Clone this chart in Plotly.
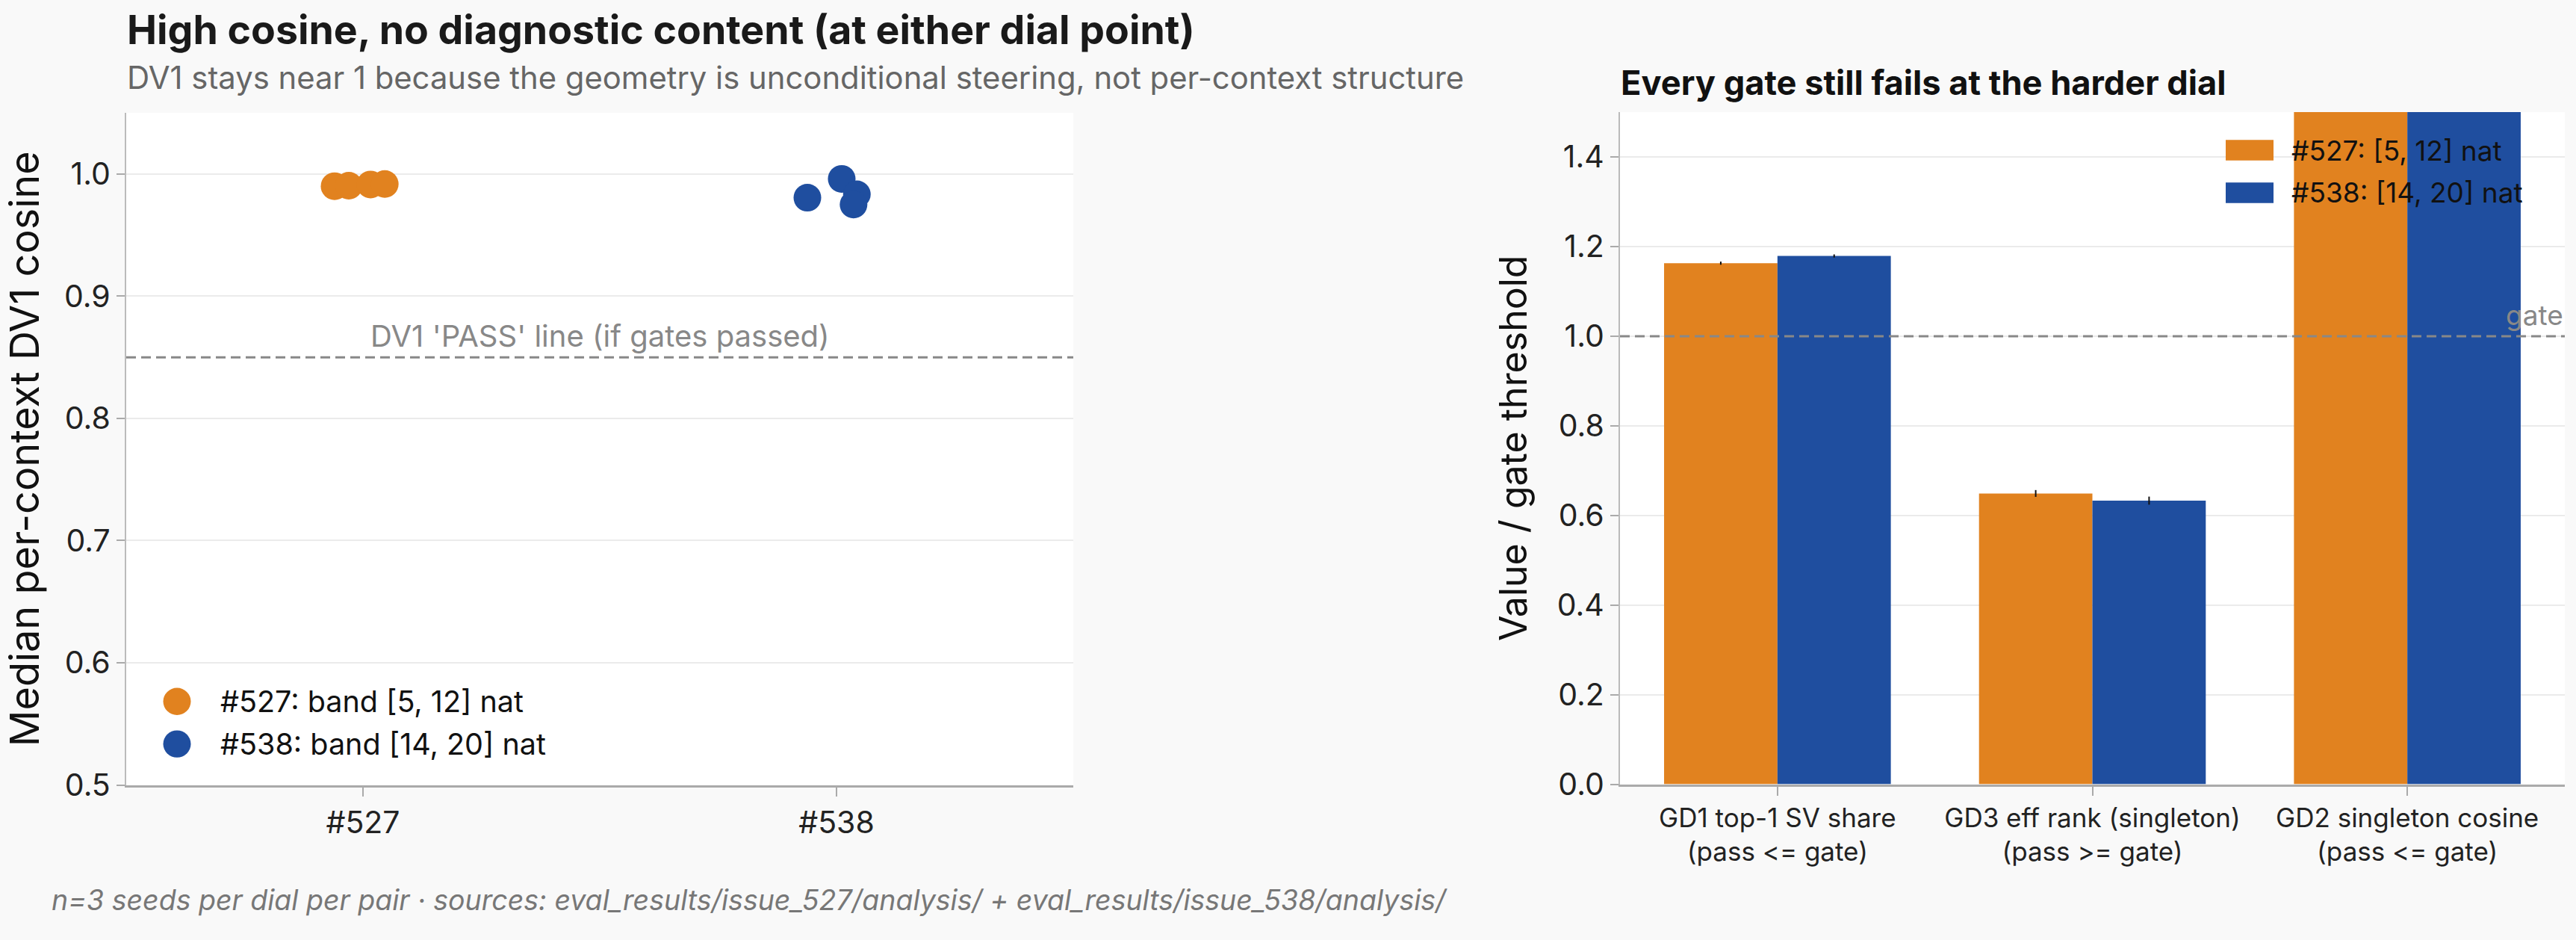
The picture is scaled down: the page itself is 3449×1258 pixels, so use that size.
import plotly.graph_objects as go

# ---------------- data ----------------
pairs = ["#527", "#538"]
pair_index = [0, 1]
legend_left = ["#527: band [5, 12] nat", "#538: band [14, 20] nat"]
legend_right = ["#527: [5, 12] nat", "#538: [14, 20] nat"]

# left panel: median per-context DV1 cosine, per seed/dial (jitter)
cos_527 = [0.990, 0.9904, 0.9914, 0.9918]
jit_527 = [-0.060, -0.030, 0.016, 0.046]
cos_538 = [0.9806, 0.996, 0.9834, 0.975]
jit_538 = [-0.0615, 0.011, 0.043, 0.036]
pass_line = 0.85

# right panel: value / gate threshold
gates = ["GD1 top-1 SV share<br>(pass <= gate)",
         "GD3 eff rank (singleton)<br>(pass >= gate)",
         "GD2 singleton cosine<br>(pass <= gate)"]
ratio_527 = [1.163, 0.649, 1.72]
err_527 = [0.0035, 0.0076, 0.01]
ratio_538 = [1.179, 0.633, 1.76]
err_538 = [0.0035, 0.009, 0.01]
gate_line = 1.0

# ---------------- style ----------------
W, H = 3449, 1258
ORANGE = "#E1821F"
BLUE = "#1F4E9F"
FONT = "Inter"
GRID = "#ebebeb"
AX = "#aaaaaa"
BG = "#f9f9f9"

def px_x(p):
    return p / W

def px_y(p):
    return 1 - p / H

fig = go.Figure()

fig.add_trace(go.Scatter(
    x=[pair_index[0] + j for j in jit_527], y=cos_527, mode="markers",
    marker=dict(size=37, color=ORANGE), name=legend_left[0],
    xaxis="x", yaxis="y", showlegend=False))
fig.add_trace(go.Scatter(
    x=[pair_index[1] + j for j in jit_538], y=cos_538, mode="markers",
    marker=dict(size=37, color=BLUE), name=legend_left[1],
    xaxis="x", yaxis="y", showlegend=False))

fig.add_trace(go.Bar(
    x=gates, y=ratio_527, marker=dict(color=ORANGE, line=dict(width=0)),
    error_y=dict(type="data", array=err_527, color="#111111", thickness=2, width=0),
    name=legend_right[0], xaxis="x2", yaxis="y2", showlegend=False))
fig.add_trace(go.Bar(
    x=gates, y=ratio_538, marker=dict(color=BLUE, line=dict(width=0)),
    error_y=dict(type="data", array=err_538, color="#111111", thickness=2, width=0),
    name=legend_right[1], xaxis="x2", yaxis="y2", showlegend=False))

tickfont = dict(family=FONT, size=41, color="#222222")
tickfont_cat = dict(family=FONT, size=35, color="#222222")

fig.update_layout(
    width=W, height=H,
    margin=dict(l=0, r=0, t=0, b=0),
    paper_bgcolor=BG, plot_bgcolor="#ffffff",
    font=dict(family=FONT, size=34, color="#222222"),
    barmode="group", bargap=0.28, bargroupgap=0,
    xaxis=dict(domain=[px_x(169), px_x(1437)], range=[-0.5, 1.5],
               tickvals=pair_index, ticktext=pairs, showgrid=False, zeroline=False,
               showline=True, linecolor=AX, linewidth=3,
               ticks="outside", ticklen=12, tickwidth=2, tickcolor=AX,
               tickfont=tickfont, anchor="y"),
    yaxis=dict(domain=[px_y(1071), px_y(154)], range=[0.5, 1.05],
               tickvals=[0.5, 0.6, 0.7, 0.8, 0.9, 1.0], tickformat=".1f",
               showgrid=True, gridcolor=GRID, gridwidth=2, zeroline=False,
               showline=True, linecolor="#bbbbbb", linewidth=2,
               ticks="outside", ticklen=11, tickwidth=2, tickcolor=AX,
               tickfont=tickfont, anchor="x",
               title=dict(text="Median per-context DV1 cosine",
                          font=dict(family=FONT, size=54, color="#111111"), standoff=30)),
    xaxis2=dict(domain=[px_x(2169), px_x(3434)], range=[-0.5, 2.5],
                showgrid=False, zeroline=False,
                showline=True, linecolor=AX, linewidth=3,
                ticks="outside", ticklen=12, tickwidth=2, tickcolor=AX,
                tickfont=tickfont_cat, anchor="y2"),
    yaxis2=dict(domain=[px_y(1070), px_y(153)], range=[0, 1.5],
                tickvals=[0, 0.2, 0.4, 0.6, 0.8, 1.0, 1.2, 1.4], tickformat=".1f",
                showgrid=True, gridcolor=GRID, gridwidth=2, zeroline=False,
                showline=True, linecolor="#bbbbbb", linewidth=2,
                ticks="outside", ticklen=11, tickwidth=2, tickcolor=AX,
                tickfont=tickfont, anchor="x2",
                title=dict(text="Value / gate threshold",
                           font=dict(family=FONT, size=50, color="#111111"), standoff=24)),
)

# reference lines
fig.add_shape(type="line", xref="x domain", yref="y", x0=0, x1=1, y0=pass_line, y1=pass_line,
              line=dict(color="#888888", width=3, dash="13px,7px"))
fig.add_shape(type="line", xref="x2 domain", yref="y2", x0=0, x1=1, y0=gate_line, y1=gate_line,
              line=dict(color="#888888", width=3, dash="13px,7px"))

ann = []
ann.append(dict(text="DV1 'PASS' line (if gates passed)", xref="x domain", yref="y",
                x=0.5, y=pass_line, xanchor="center", yanchor="bottom", yshift=2,
                showarrow=False, font=dict(family=FONT, size=40, color="#888888")))
ann.append(dict(text="gate", xref="x2 domain", yref="y2", x=1.0, y=gate_line,
                xanchor="right", yanchor="bottom", yshift=4,
                showarrow=False, font=dict(family=FONT, size=37, color="#888888")))
# titles
ann.append(dict(text="<b>High cosine, no diagnostic content (at either dial point)</b>",
                xref="paper", yref="paper", x=px_x(168), y=px_y(40),
                xanchor="left", yanchor="middle", showarrow=False,
                font=dict(family=FONT, size=53.6, color="#1a1a1a")))
ann.append(dict(text="DV1 stays near 1 because the geometry is unconditional steering, not per-context structure",
                xref="paper", yref="paper", x=px_x(168), y=px_y(106),
                xanchor="left", yanchor="middle", showarrow=False,
                font=dict(family=FONT, size=41.8, color="#666666")))
ann.append(dict(text="<b>Every gate still fails at the harder dial</b>",
                xref="paper", yref="paper", x=px_x(2168), y=px_y(113),
                xanchor="left", yanchor="middle", showarrow=False,
                font=dict(family=FONT, size=45.2, color="#111111")))
ann.append(dict(text="<i>n=3 seeds per dial per pair · sources: eval_results/issue_527/analysis/ + eval_results/issue_538/analysis/</i>",
                xref="paper", yref="paper", x=px_x(67), y=px_y(1228),
                xanchor="left", yanchor="middle", showarrow=False,
                font=dict(family=FONT, size=37.5, color="#777777")))

# left legend (custom)
shapes = []
for i, (lab, col) in enumerate(zip(legend_left, [ORANGE, BLUE])):
    cy = 957 + i * 58
    shapes.append(dict(type="circle", xref="paper", yref="paper",
                       x0=px_x(237 - 18.5), x1=px_x(237 + 18.5),
                       y0=px_y(cy + 18.5), y1=px_y(cy - 18.5),
                       fillcolor=col, line=dict(width=0)))
    ann.append(dict(text=lab, xref="paper", yref="paper", x=px_x(293), y=px_y(cy),
                    xanchor="left", yanchor="middle", showarrow=False,
                    font=dict(family=FONT, size=39.5, color="#111111")))
# right legend (custom)
for i, (lab, col) in enumerate(zip(legend_right, [ORANGE, BLUE])):
    cy = 205 + i * 58
    shapes.append(dict(type="rect", xref="paper", yref="paper",
                       x0=px_x(2980), x1=px_x(3044),
                       y0=px_y(cy + 14), y1=px_y(cy - 14),
                       fillcolor=col, line=dict(width=0)))
    ann.append(dict(text=lab, xref="paper", yref="paper", x=px_x(3066), y=px_y(cy),
                    xanchor="left", yanchor="middle", showarrow=False,
                    font=dict(family=FONT, size=37, color="#111111")))

for s in shapes:
    fig.add_shape(**s)
fig.update_layout(annotations=ann)

fig.write_html("out.html")
